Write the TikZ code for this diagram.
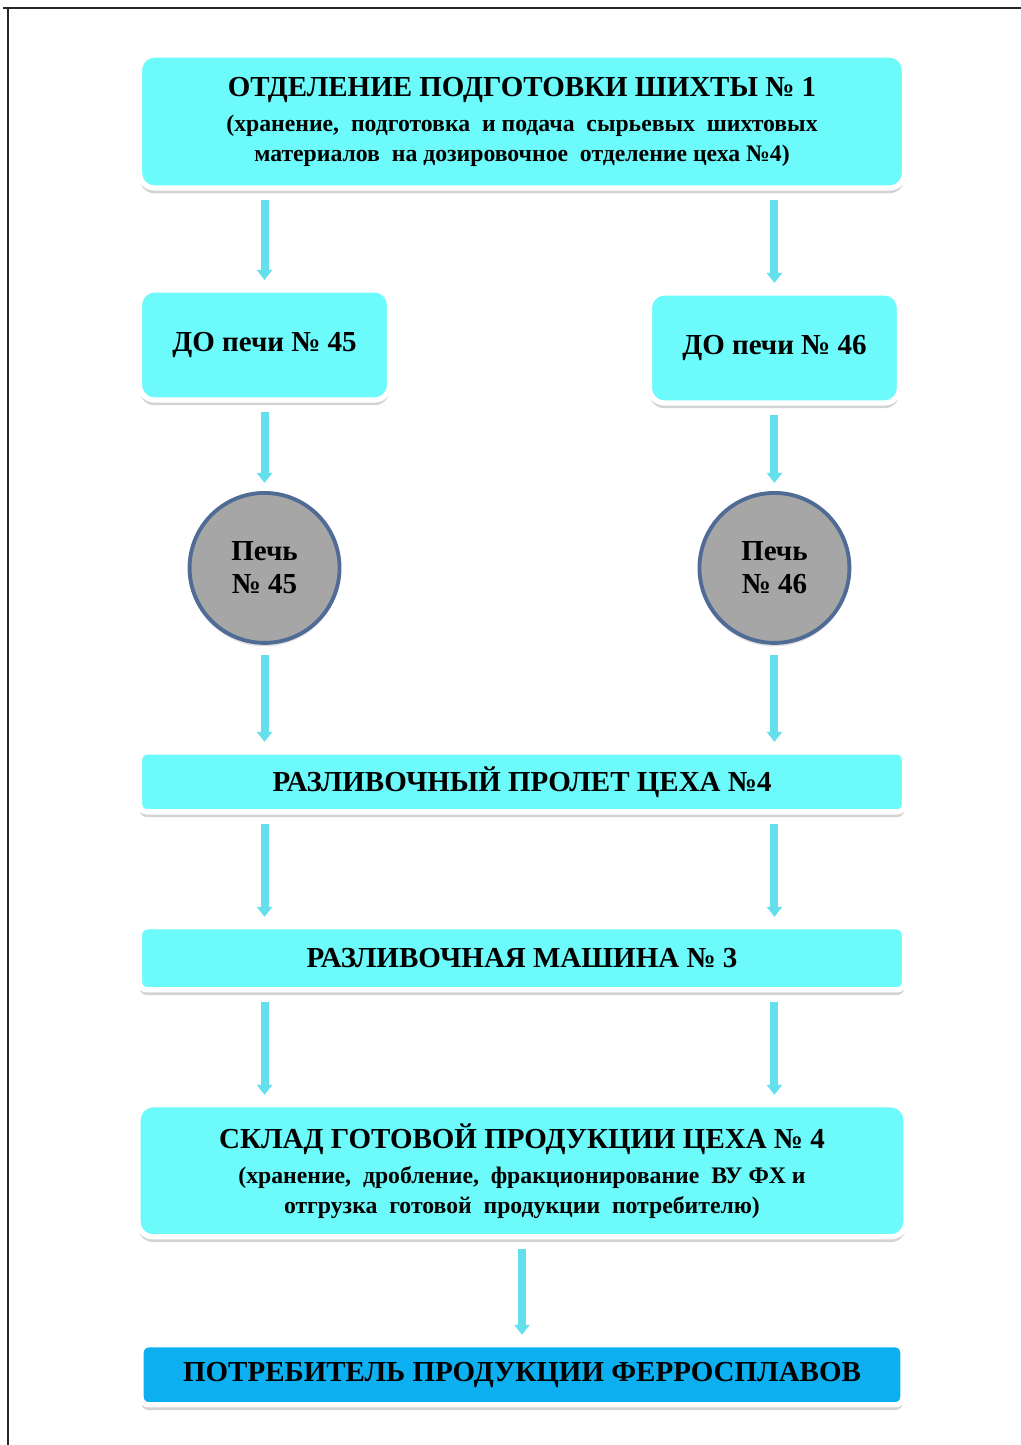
\documentclass[tikz,border=0pt]{standalone}
\usepackage{fontspec}
\setmainfont{Liberation Serif}
\usepackage{tikz}
\usetikzlibrary{positioning}
\usetikzlibrary{calc}
\usetikzlibrary{arrows.meta}
\usetikzlibrary{shadows}
\definecolor{boxcyan}{RGB}{108,250,250}
\definecolor{arrcyan}{RGB}{100,224,236}
\definecolor{boxblue}{RGB}{12,176,240}
\definecolor{pechgray}{RGB}{166,166,166}
\definecolor{pechrim}{RGB}{79,107,150}

\begin{document}
\begin{tikzpicture}[x=0.02cm,y=-0.02cm,align=center,font=\bfseries,
	pbox/.style={rectangle,rounded corners=0.3cm,fill=boxcyan,draw=white,line width=3pt,outer sep=0pt,inner sep=2pt,
		drop shadow={shadow xshift=0pt,shadow yshift=-3pt,opacity=0.35}},
	wbox/.style={pbox,rounded corners=0.15cm,minimum width=15.3cm},
	pcirc/.style={circle,fill=pechgray,draw=pechrim,line width=2.2pt,minimum size=3cm,outer sep=0pt,inner sep=0pt,
		drop shadow={shadow xshift=0pt,shadow yshift=-2pt,opacity=0.25}},
	parr/.style={arrcyan,line width=0.16cm,-{Triangle[width=0.3cm,length=0.2cm]},shorten <=0.24cm,shorten >=0.2cm},
	big/.style={font=\bfseries\fontsize{16.5}{19}\selectfont},
	small/.style={font=\bfseries\fontsize{13.5}{17}\selectfont}]
		\useasboundingbox (0,0) rectangle (1021,1445);
		\draw[line width=1.2pt,black!85] (3,8) -- (1021,8);
		\draw[line width=1.2pt,black!85] (8,8) -- (8,1445);
		\node[pbox,small,minimum width=15.3cm,minimum height=2.66cm] (otd) at (522,121.5){{\fontsize{16.5}{19}\selectfont ОТДЕЛЕНИЕ ПОДГОТОВКИ ШИХТЫ № 1}\\[3pt]
			(хранение,\ \ подготовка\ \ и подача\ \ сырьевых\ \ шихтовых\\
			материалов\ \ на дозировочное\ \ отделение\ цеха №4)};
		\node[pbox,big,minimum width=5cm,minimum height=2.2cm] (do45)[below right = 2.04cm and 0cm of otd.south west]{ДО печи № 45};
		\node[pbox,big,minimum width=5cm,minimum height=2.2cm] (do46)[below left = 2.1cm and 0.1cm of otd.south east]{ДО печи № 46};
		\node[pcirc,big] (p45)[below = 1.86cm of do45]{Печь\\№ 45};
		\node[pcirc,big] (p46)[below = 1.8cm of do46]{Печь\\№ 46};
		\node[wbox,big,minimum height=1.2cm] (prolet)[below = 11.28cm of otd]{РАЗЛИВОЧНЫЙ ПРОЛЕТ ЦЕХА №4};
		\node[wbox,big,minimum height=1.26cm] (mash)[below = 2.3cm of prolet]{РАЗЛИВОЧНАЯ МАШИНА № 3};
		\node[pbox,small,minimum width=15.36cm,minimum height=2.64cm] (sklad)[below = 2.3cm of mash]{{\fontsize{16.5}{19}\selectfont СКЛАД ГОТОВОЙ ПРОДУКЦИИ ЦЕХА № 4}\\[3pt]
			(хранение,\ \ дробление,\ \ фракционирование\ \ ВУ ФХ и\\
			отгрузка\ \ готовой\ \ продукции\ \ потребителю)};
		\node[wbox,big,fill=boxblue,minimum width=15.24cm,minimum height=1.2cm] (potr)[below = 2.16cm of sklad]{ПОТРЕБИТЕЛЬ ПРОДУКЦИИ ФЕРРОСПЛАВОВ};
		\draw[parr] (do45 |- otd.south) -- (do45.north);
		\draw[parr] (do46 |- otd.south) -- (do46.north);
		\draw[parr] (do45) -- (p45);
		\draw[parr] (do46) -- (p46);
		\draw[parr] (p45) -- (p45 |- prolet.north);
		\draw[parr] (p46) -- (p46 |- prolet.north);
		\draw[parr] (p45 |- prolet.south) -- (p45 |- mash.north);
		\draw[parr] (p46 |- prolet.south) -- (p46 |- mash.north);
		\draw[parr] (p45 |- mash.south) -- (p45 |- sklad.north);
		\draw[parr] (p46 |- mash.south) -- (p46 |- sklad.north);
		\draw[parr] (sklad) -- (potr);
	\end{tikzpicture}
\end{document}
